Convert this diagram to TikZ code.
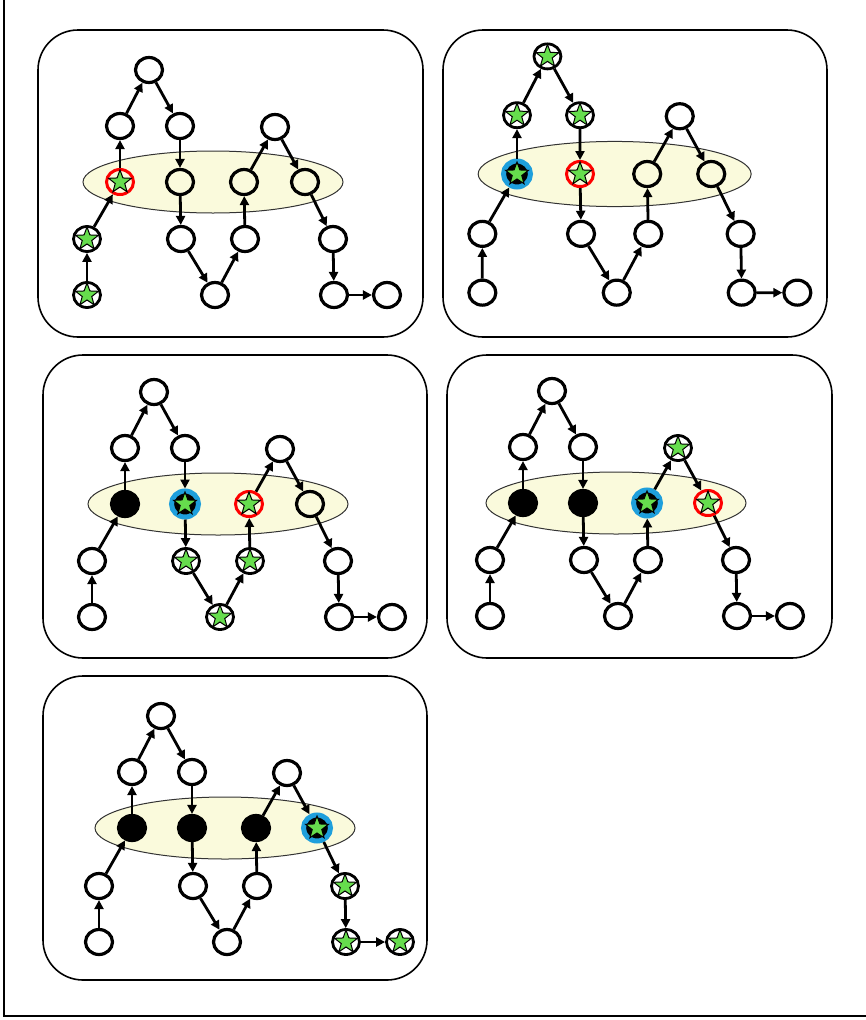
\documentclass[tikz,border=0pt]{standalone}
\usepackage{xcolor}
\definecolor{stargreen}{HTML}{66DD4D}
\definecolor{ringblue}{HTML}{1E9FDC}
\definecolor{bandyellow}{HTML}{FAFADC}
\usepackage{tikz}
\usetikzlibrary{shapes.geometric,arrows.meta}
\newcommand{\graphedges}{%
  \draw[flow] (b1) -- (l1);
  \draw[flow] (l1) -- (e1);
  \draw[flow] (e1) -- (u1);
  \draw[flow] (u1) -- (t);
  \draw[flow] (t) -- (u2);
  \draw[flow] (u2) -- (e2);
  \draw[flow] (e2) -- (l2);
  \draw[flow] (l2) -- (b2);
  \draw[flow] (b2) -- (l3);
  \draw[flow] (l3) -- (e3);
  \draw[flow] (e3) -- (u3);
  \draw[flow] (u3) -- (e4);
  \draw[flow] (e4) -- (l4);
  \draw[flow] (l4) -- (b3);
  \draw[flow] (b3) -- (b4);
}

\begin{document}
\begin{tikzpicture}[x=1pt,y=-1pt,
    plain/.style={ellipse,draw,line width=3.2pt,minimum width=27pt,minimum height=25pt,inner sep=0pt},
    done/.style={plain,fill=black},
    gstar/.style={star,star points=5,star point ratio=2.4,draw=black,fill=stargreen,line width=1pt,minimum size=24pt,inner sep=0pt},
    starred/.style={plain,fill=white,line width=2.8pt,append after command={node[gstar] at (\tikzlastnode.center) {}}},
    redring/.style={starred,draw=red,fill=none,line width=3pt},
    bluering/.style={starred,draw=ringblue,fill=black,line width=5pt,minimum width=27pt,minimum height=26pt},
    flow/.style={line width=2.8pt,-{Triangle[length=9pt,width=9pt]}},
    band/.style={draw=black!80,line width=1pt,fill=bandyellow},
    panel/.style={draw,line width=1.6pt,rounded corners=40pt}]
  \useasboundingbox (0,0) rectangle (866,1020);
  \draw[line width=1.2pt] (4,0) -- (4,1016) -- (866,1016);

  \draw[panel] (38,30) rectangle (423,337);
  \draw[panel] (443,30) rectangle (827,337);
  \draw[panel] (43,355) rectangle (427,658);
  \draw[panel] (447,355) rectangle (832,658);
  \draw[panel] (43,676) rectangle (427,980);

  % panel 1
  \begin{scope}[shift={(120,182)}]
  \draw[band] (93,0) ellipse [x radius=130,y radius=31];
  \node[plain](t) at (29,-112) {};
  \node[plain](u1) at (0,-56) {};
  \node[plain](u2) at (60,-56) {};
  \node[plain](u3) at (155,-55) {};
  \node[redring](e1) at (0,0) {};
  \node[plain](e2) at (60,0) {};
  \node[plain](e3) at (124,0) {};
  \node[plain](e4) at (185,0) {};
  \node[starred](l1) at (-33,57) {};
  \node[plain](l2) at (61,57) {};
  \node[plain](l3) at (125,57) {};
  \node[plain](l4) at (213,57) {};
  \node[starred](b1) at (-33,113) {};
  \node[plain](b2) at (95,113) {};
  \node[plain](b3) at (214,113) {};
  \node[plain](b4) at (267,113) {};
  \graphedges
  \end{scope}

  % panel 2
  \begin{scope}[shift={(517,174)},scale=1.05]
  \draw[band] (93,0) ellipse [x radius=130,y radius=31];
  \node[starred](t) at (29,-112) {};
  \node[starred](u1) at (0,-56) {};
  \node[starred](u2) at (60,-56) {};
  \node[plain](u3) at (155,-55) {};
  \node[bluering](e1) at (0,0) {};
  \node[redring](e2) at (60,0) {};
  \node[plain](e3) at (124,0) {};
  \node[plain](e4) at (185,0) {};
  \node[plain](l1) at (-33,57) {};
  \node[plain](l2) at (61,57) {};
  \node[plain](l3) at (125,57) {};
  \node[plain](l4) at (213,57) {};
  \node[plain](b1) at (-33,113) {};
  \node[plain](b2) at (95,113) {};
  \node[plain](b3) at (214,113) {};
  \node[plain](b4) at (267,113) {};
  \graphedges
  \end{scope}

  % panel 3
  \begin{scope}[shift={(125,504)}]
  \draw[band] (93,0) ellipse [x radius=130,y radius=31];
  \node[plain](t) at (29,-112) {};
  \node[plain](u1) at (0,-56) {};
  \node[plain](u2) at (60,-56) {};
  \node[plain](u3) at (155,-55) {};
  \node[done](e1) at (0,0) {};
  \node[bluering](e2) at (60,0) {};
  \node[redring](e3) at (124,0) {};
  \node[plain](e4) at (185,0) {};
  \node[plain](l1) at (-33,57) {};
  \node[starred](l2) at (61,57) {};
  \node[starred](l3) at (125,57) {};
  \node[plain](l4) at (213,57) {};
  \node[plain](b1) at (-33,113) {};
  \node[starred](b2) at (95,113) {};
  \node[plain](b3) at (214,113) {};
  \node[plain](b4) at (267,113) {};
  \graphedges
  \end{scope}

  % panel 4
  \begin{scope}[shift={(523,503)}]
  \draw[band] (93,0) ellipse [x radius=130,y radius=31];
  \node[plain](t) at (29,-112) {};
  \node[plain](u1) at (0,-56) {};
  \node[plain](u2) at (60,-56) {};
  \node[starred](u3) at (155,-55) {};
  \node[done](e1) at (0,0) {};
  \node[done](e2) at (60,0) {};
  \node[bluering](e3) at (124,0) {};
  \node[redring](e4) at (185,0) {};
  \node[plain](l1) at (-33,57) {};
  \node[plain](l2) at (61,57) {};
  \node[plain](l3) at (125,57) {};
  \node[plain](l4) at (213,57) {};
  \node[plain](b1) at (-33,113) {};
  \node[plain](b2) at (95,113) {};
  \node[plain](b3) at (214,113) {};
  \node[plain](b4) at (267,113) {};
  \graphedges
  \end{scope}

  % panel 5
  \begin{scope}[shift={(132,828)}]
  \draw[band] (93,0) ellipse [x radius=130,y radius=31];
  \node[plain](t) at (29,-112) {};
  \node[plain](u1) at (0,-56) {};
  \node[plain](u2) at (60,-56) {};
  \node[plain](u3) at (155,-55) {};
  \node[done](e1) at (0,0) {};
  \node[done](e2) at (60,0) {};
  \node[done](e3) at (124,0) {};
  \node[bluering](e4) at (185,0) {};
  \node[plain](l1) at (-33,58) {};
  \node[plain](l2) at (61,58) {};
  \node[plain](l3) at (125,58) {};
  \node[starred](l4) at (213,58) {};
  \node[plain](b1) at (-33,114) {};
  \node[plain](b2) at (95,114) {};
  \node[starred](b3) at (214,114) {};
  \node[starred](b4) at (268,114) {};
  \graphedges
  \end{scope}
\end{tikzpicture}
\end{document}
